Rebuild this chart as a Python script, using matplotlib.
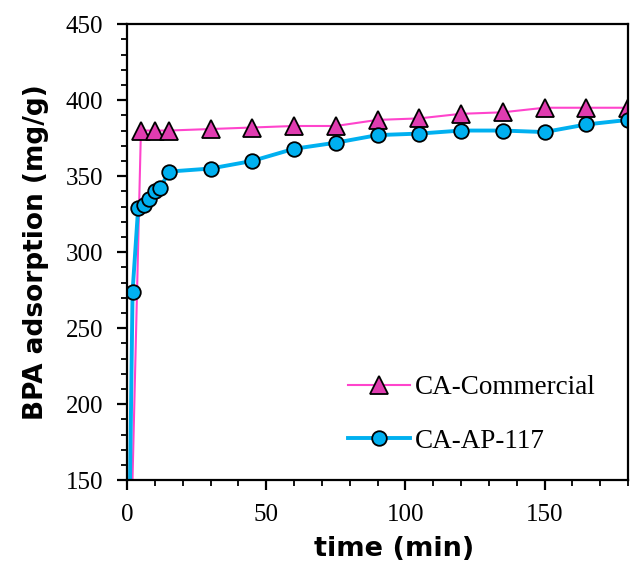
import matplotlib.pyplot as plt
from matplotlib.ticker import MultipleLocator

# time points (min)
time_com = [0, 5, 10, 15, 30, 45, 60, 75, 90, 105, 120, 135, 150, 165, 180]
ads_com = [0, 380, 380, 380, 381, 382, 383, 383, 387, 388, 391, 392, 395, 395, 395]

time_ap = [0, 2, 4, 6, 8, 10, 12, 15, 30, 45, 60, 75, 90, 105, 120, 135, 150, 165, 180]
ads_ap = [0, 274, 329, 331, 335, 340, 342, 353, 355, 360, 368, 372, 377, 378, 380, 380, 379, 384, 387]

serif = 'Liberation Serif'
plt.rcParams['font.family'] = serif

fig = plt.figure(figsize=(6.35, 5.61), dpi=100)
ax = fig.add_axes([0.2, 0.144, 0.789, 0.813])

ax.plot(time_com, ads_com, color='#FF44CC', lw=1.5, marker='^', ms=12.5,
        mfc='#E03CB0', mec='black', mew=1.3, label='CA-Commercial')
ax.plot(time_ap, ads_ap, color='#00B0F0', lw=2.8, marker='o', ms=10.5,
        mfc='#00B0F0', mec='black', mew=1.3, label='CA-AP-117')

ax.set_xlim(0, 180)
ax.set_ylim(150, 450)
ax.xaxis.set_major_locator(MultipleLocator(50))
ax.xaxis.set_minor_locator(MultipleLocator(10))
ax.yaxis.set_major_locator(MultipleLocator(50))
ax.yaxis.set_minor_locator(MultipleLocator(10))

for s in ax.spines.values():
    s.set_linewidth(1.6)
ax.tick_params(axis='x', which='major', direction='out', length=7, width=1.6, pad=10)
ax.tick_params(axis='y', which='major', direction='out', length=7, width=1.6, pad=10)
ax.tick_params(which='minor', direction='out', length=4.5, width=1.3)
ax.tick_params(axis='both', which='major', labelsize=18)

ax.set_xlabel('time (min)', fontsize=19.5, fontweight='bold', family='DejaVu Sans',
              labelpad=7)
ax.xaxis.label.set_x(0.533)
ax.set_ylabel('BPA adsorption (mg/g)', fontsize=19, fontweight='bold',
              family='DejaVu Sans', labelpad=12)

ax.legend(loc='lower right', bbox_to_anchor=(0.985, 0.005), frameon=False,
          prop={'family': serif, 'size': 19.5}, handlelength=2.3,
          handletextpad=0.2, labelspacing=1.05)

fig.savefig('out.png', dpi=100)
